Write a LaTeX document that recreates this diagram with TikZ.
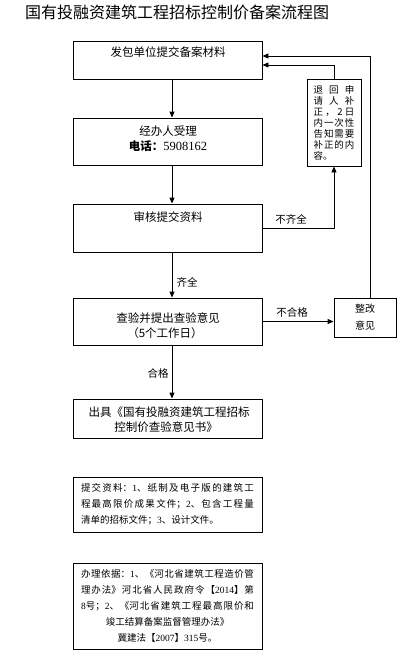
\documentclass[tikz,border=0pt]{standalone}
\usepackage{fontspec}
\setmainfont{Liberation Serif}
\newfontfamily\cjk{Noto Sans CJK SC}
\usetikzlibrary{arrows.meta}
\XeTeXlinebreaklocale "zh"
\XeTeXlinebreakskip=0pt plus 2pt
\newcommand\numtxt[1]{{\rmfamily #1}}
\begin{document}
\begin{tikzpicture}[x=1pt,y=-1pt,
  box/.style={draw,line width=0.9pt,minimum width=189pt,inner sep=0pt},
  lbl/.style={font={\cjk\fontsize{11.5}{14}\selectfont},inner sep=0pt},
  tag/.style={font={\cjk\fontsize{10.5}{12}\selectfont},inner sep=0pt},
  para/.style={box,inner xsep=8pt,text width=173pt,align=justify,font={\cjk\fontsize{9.5}{16}\selectfont}},
  arr/.style={line width=0.9pt,-{Triangle[length=6pt,width=5pt]}}]
\useasboundingbox (0,0) rectangle (415,661);

\node[anchor=west,inner sep=0pt,font={\cjk\fontsize{16}{18}\selectfont}] (title) at (25,12.5) {国有投融资建筑工程招标控制价备案流程图};

\node[box,minimum height=38pt] (b1) at (167.5,60) {};
\node[lbl] (t1) at (168,52) {发包单位提交备案材料};

\node[box,minimum height=47pt] (b2) at (167.5,141.5) {};
\node[lbl] (t2a) at (168,131) {经办人受理};
\node[lbl] (t2b) at (168,146) {{\bfseries 电话：}\numtxt{\fontsize{12.5}{14}\selectfont 5908162}};

\node[box,minimum height=48pt] (b3) at (167.5,228) {};
\node[lbl] (t3) at (168,217) {审核提交资料};

\node[box,minimum height=47pt] (b4) at (167.5,321.5) {};
\node[lbl] (t4a) at (168,318) {查验并提出查验意见};
\node[lbl] (t4b) at (165,333) {（5个工作日）};

\node[box,minimum height=39pt] (b5) at (167.5,418.5) {};
\node[lbl] (t5a) at (169,412) {出具《国有投融资建筑工程招标};
\node[lbl] (t5b) at (166,427) {控制价查验意见书》};

\node[para,minimum height=55pt] (b6) at (167.5,504.5) {提交资料：\numtxt{1}、纸制及电子版的建筑工\linebreak 程最高限价成果文件；\numtxt{2}、包含工程量\linebreak 清单的招标文件；\numtxt{3}、设计文件。};

\node[para,minimum height=86pt] (b7) at (167.5,606) {\parfillskip=0pt 办理依据：\numtxt{1}、《河北省建筑工程造价管\linebreak 理办法》河北省人民政府令【\numtxt{2014}】第\linebreak \numtxt{8}号；\numtxt{2}、《河北省建筑工程最高限价和\par
\leftskip=0pt plus 1fil\rightskip=0pt plus 1fil\parfillskip=0pt 竣工结算备案监督管理办法》\par 冀建法【\numtxt{2007}】\numtxt{315}号。\par};

\node[draw,line width=0.9pt,minimum width=54pt,minimum height=87pt,inner sep=0pt,align=center,font={\cjk\fontsize{9.5}{11}\selectfont}] (bA) at (334,122.5)
 {\hbox to 41pt{退\hfil 回\hfil 申}\\\hbox to 41pt{请\hfil 人\hfil 补}\\\hbox to 41pt{正\hfil ，\hfil 2\hfil 日}\\\hbox to 41pt{内\hfil 一\hfil 次\hfil 性}\\\hbox to 41pt{告\hfil 知\hfil 需\hfil 要}\\\hbox to 41pt{补\hfil 正\hfil 的\hfil 内}\\\hbox to 41pt{容。\hfil}};

\node[draw,line width=0.9pt,minimum width=62pt,minimum height=39pt,inner sep=0pt,align=center,font={\cjk\fontsize{10}{17}\selectfont}] (bB) at (365,317.5) {整改\\意见};

\coordinate (ax) at (172,0);
\coordinate (y65) at (0,65);
\coordinate (rx) at (370,56);

\draw[arr] (b1.south -| ax) -- (b2.north -| ax);
\draw[arr] (b2.south -| ax) -- (b3.north -| ax);
\draw[arr] (b3.south -| ax) -- (b4.north -| ax);
\draw[arr] (b4.south -| ax) -- (b5.north -| ax);
\draw[arr] (b4.east) -- (b4.east -| bB.west);
\draw[arr] (b3.east) -| (bA.south);
\draw[arr] (bA.north) |- (b1.east |- y65);
\draw[arr] (bB.north -| rx) |- (b1.east |- rx);

\node[tag] (l1) at (187,282) {齐全};
\node[tag] (l2) at (158,373) {合格};
\node[tag] (l3) at (292,312) {不合格};
\node[tag] (l4) at (291,219) {不齐全};
\end{tikzpicture}
\end{document}
